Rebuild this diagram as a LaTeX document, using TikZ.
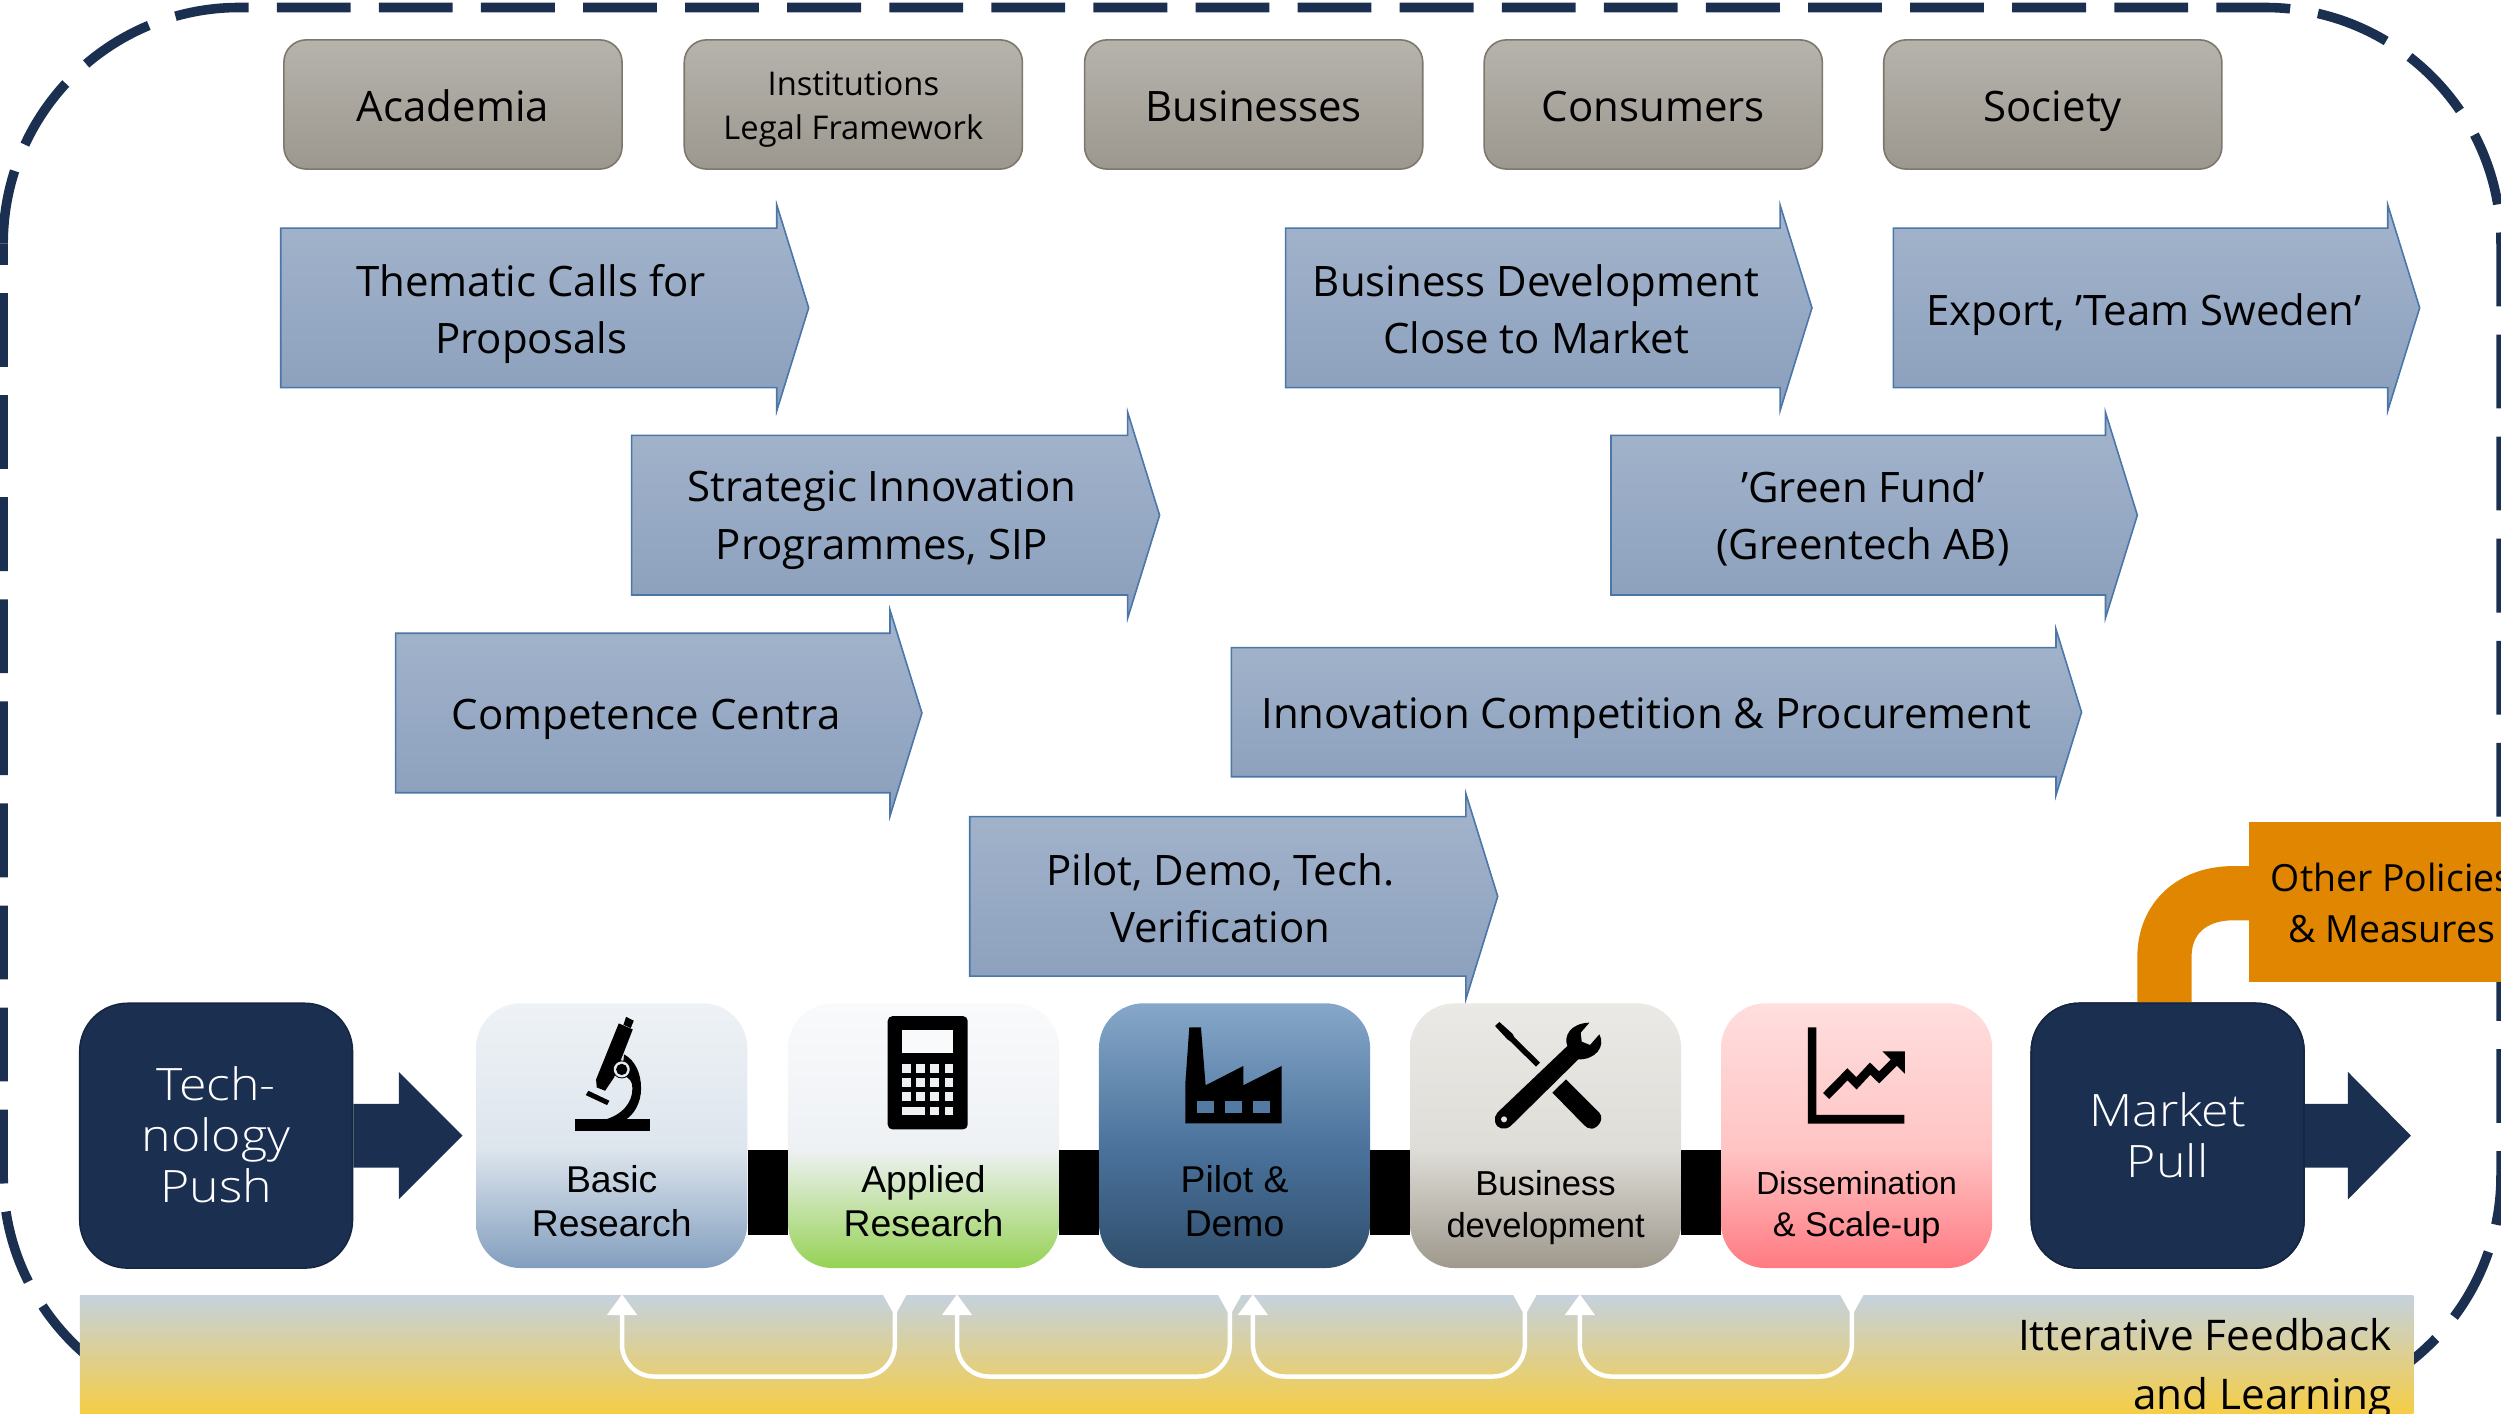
\documentclass[tikz,border=0pt]{standalone}
\usepackage{fontspec}
\setmainfont{Open Sans}
\newfontfamily\arialf{Liberation Sans}
\newfontfamily\navyf[FakeStretch=1.12]{Open Sans Light}
\definecolor{navy}{RGB}{27,47,80}
\definecolor{grayT}{RGB}{182,179,173}
\definecolor{grayB}{RGB}{156,152,143}
\definecolor{grayL}{RGB}{125,120,108}
\definecolor{arrT}{RGB}{164,180,204}
\definecolor{arrB}{RGB}{138,159,188}
\definecolor{arrL}{RGB}{74,118,168}
\definecolor{orangeF}{RGB}{224,134,0}
\definecolor{bandT}{RGB}{197,210,222}
\definecolor{bandB}{RGB}{245,205,70}
\definecolor{bA}{RGB}{238,242,246}\definecolor{bB}{RGB}{221,229,237}\definecolor{bC}{RGB}{130,158,190}
\definecolor{aA}{RGB}{249,250,252}\definecolor{aB}{RGB}{238,241,244}\definecolor{aC}{RGB}{150,210,85}
\definecolor{pA}{RGB}{134,167,201}\definecolor{pB}{RGB}{74,114,155}\definecolor{pC}{RGB}{48,78,108}
\definecolor{dA}{RGB}{234,233,229}\definecolor{dB}{RGB}{223,221,216}\definecolor{dC}{RGB}{158,152,140}
\definecolor{sA}{RGB}{255,222,222}\definecolor{sB}{RGB}{255,196,196}\definecolor{sC}{RGB}{255,122,130}
\newcommand{\declshade}[4]{\pgfdeclareverticalshading{#1}{100bp}{color(0bp)=(#4); color(25bp)=(#4); color(47.5bp)=(#3); color(75bp)=(#2); color(100bp)=(#2)}}
\declshade{shBasic}{bA}{bB}{bC}
\declshade{shApplied}{aA}{aB}{aC}
\declshade{shPilot}{pA}{pB}{pC}
\declshade{shBusiness}{dA}{dB}{dC}
\declshade{shDiss}{sA}{sB}{sC}
\tikzset{
  graybox/.style={draw=grayL,line width=1pt,rounded corners=14pt,top color=grayT,bottom color=grayB,minimum width=212pt,minimum height=81pt,inner sep=0pt},
  graytext/.style={align=center,font=\fontsize{26.3}{32}\selectfont,text=black},
  arrowshape/.style={draw=arrL,line width=1pt,top color=arrT,bottom color=arrB},
  arrowtext/.style={align=center,font=\fontsize{26.3}{36}\selectfont,text=black},
  stagebox/.style={rounded corners=28pt,minimum width=170pt,minimum height=166pt,inner sep=0pt,shade},
  stagetext/.style={align=center,font=\arialf\fontsize{23.4}{28}\selectfont,text=black},
  navybox/.style={fill=navy,draw=navy!80!black,line width=1pt,rounded corners=30pt,minimum width=171pt,minimum height=166pt,inner sep=0pt},
  navytext/.style={align=center,font=\navyf\fontsize{28}{32}\selectfont,text=white},
  link/.style={line width=53pt,black},
  dashline/.style={navy,line width=6pt},
  loopline/.style={white,line width=2.8pt,rounded corners=20pt},
  looptip/.style={fill=white,draw=none},
  icon/.style={x=0.209pt,y=-0.209pt}
}
\newcommand{\polyarrow}[9]{%
  \draw[arrowshape] (#2,#5) -- (#3,#5) -- (#3,#5-#7) -- (#4,{(#5+#6)/2}) -- (#3,#6+#7) -- (#3,#6) -- (#2,#6) -- cycle;
  \node[arrowtext] (#1) at (#8,#9)}
\newcommand{\feedback}[3]{%
  \coordinate (fbA#1) at (#2,812);
  \coordinate (fbB#1) at (#3,812);
  \fill[looptip] (#2-9.5,824.5) -- (#2,811.5) -- (#2+9.5,824.5) -- cycle;
  \fill[looptip] (#3-7.5,811.5) -- (#3+7.5,811.5) -- (#3,825) -- cycle;
  \draw[loopline] (fbA#1 |- 0,823) -- (fbA#1 |- 0,863) -- (fbB#1 |- 0,863) -- (fbB#1 |- 0,823);}
\begin{document}
\begin{tikzpicture}[x=1pt,y=-1pt]
\useasboundingbox (0,0) rectangle (1568,885.9);
\clip (0,0) rectangle (1568,885.9);
% dashed frame
\draw[dashline,dash pattern=on 46.3pt off 17.7pt] (2,152.7) .. controls (2,71) and (68.3,4.7) .. (150,4.7) -- (1420,4.7) .. controls (1501.7,4.7) and (1568,71) .. (1568,152.7) -- (1568,737) .. controls (1568,818.7) and (1501.7,885) .. (1420,885) -- (785,885);
\draw[dashline,dash pattern=on 46.3pt off 17.7pt,dash phase=33pt] (2,152.7) -- (2,737) .. controls (2,818.7) and (68.3,885) .. (150,885) -- (785,885);
% top row
\node[graybox] (academia) at (284,65.5) {};
\node[graybox] (institutions) at (535,65.5) {};
\node[graybox] (businesses) at (786,65.5) {};
\node[graybox] (consumers) at (1036.5,65.5) {};
\node[graybox] (society) at (1287,65.5) {};
\node[graytext] (academiaT) at (284,66.5) {Academia};
\node[graytext,font=\fontsize{20.5}{28}\selectfont] (institutionsT) at (535,68.5) {Institutions\\Legal Framework};
\node[graytext] (businessesT) at (786,66.5) {Businesses};
\node[graytext] (consumersT) at (1036.5,66.5) {Consumers};
\node[graytext] (societyT) at (1287,69.5) {Society};
% policy arrows
\polyarrow{thematic}{176}{487}{507}{143}{243}{14.5}{333}{197} {Thematic Calls for\\Proposals};
\polyarrow{strategic}{396}{707}{727}{273}{373}{14.5}{553}{326} {Strategic Innovation\\Programmes, SIP};
\polyarrow{competence}{248}{558}{578}{397}{497}{14.5}{405}{451} {Competence Centra};
\polyarrow{bizdev}{806}{1116}{1136}{143}{243}{14.5}{963}{194} {Business Development\\Close to Market};
\polyarrow{export}{1187}{1497}{1517}{143}{243}{14.5}{1344}{197} {Export, ’Team Sweden’};
\polyarrow{green}{1010}{1320}{1340}{273}{373}{14.5}{1168}{325} {’Green Fund’\\(Greentech AB)};
\polyarrow{procure}{772}{1289}{1305}{406}{487}{11.5}{1032}{450.5} {Innovation Competition \& Procurement};
\polyarrow{pilotarrow}{608}{919}{939}{512}{612}{14.5}{765}{563} {Pilot, Demo, Tech.\\Verification};
% other policies
\node[fill=orangeF,minimum width=200pt,minimum height=100.5pt,inner sep=0pt,anchor=west] (other) at (1410,565.3) {};
\node[align=center,font=\fontsize{23.5}{32}\selectfont,text=black,anchor=center] (otherT) at (1499.5,566) {Other Policies\\\& Measures};
% bottom row
\node[navybox] (tech) at (135.5,712) {};
\node[navybox] (market) at (1359,712) {};
\draw[orangeF,line width=34pt] (market.north -| 1357,0) -- (1357,600) .. controls (1357,575) and (1375,560) .. (1400,560) -- (other.west |- 0,560);
\node[navybox] (market) at (1359,712) {};
\fill[navy] (tech.east |- 0,692) -- (250,692) -- (250,672) -- (290,712) -- (250,752) -- (250,732) -- (tech.east |- 0,732) -- cycle;
\fill[navy] (market.east |- 0,692) -- (1472,692) -- (1472,672) -- (1511.5,712) -- (1472,752) -- (1472,732) -- (market.east |- 0,732) -- cycle;
\node[navytext] (techT) at (135.5,711.5) {Tech-\\nology\\Push};
\node[navytext] (marketT) at (1359,712) {Market\\Pull};
\node[stagebox,shading=shBasic] (basic) at (383.5,712) {};
\node[stagebox,shading=shApplied] (applied) at (579,712) {};
\node[stagebox,shading=shPilot] (pilot) at (774,712) {};
\node[stagebox,shading=shBusiness] (business) at (969,712) {};
\node[stagebox,shading=shDiss] (diss) at (1164,712) {};
\draw[link] ([yshift=-35.5pt]basic.east) -- ([yshift=-35.5pt]applied.west);
\draw[link] ([yshift=-35.5pt]applied.east) -- ([yshift=-35.5pt]pilot.west);
\draw[link] ([yshift=-35.5pt]pilot.east) -- ([yshift=-35.5pt]business.west);
\draw[link] ([yshift=-35.5pt]business.east) -- ([yshift=-35.5pt]diss.west);
\node[stagetext] (basicT) at (383.5,753) {Basic\\Research};
\node[stagetext] (appliedT) at (579,753) {Applied\\Research};
\node[stagetext] (pilotT) at (774,753) {Pilot \&\\Demo};
\node[stagetext,font=\arialf\fontsize{21.7}{26}\selectfont] (businessT) at (969,757) {Business\\development};
\node[stagetext,font=\arialf\fontsize{20}{26}\selectfont] (dissT) at (1164,757) {Dissemination\\{\fontsize{21.5}{26}\selectfont\& Scale-up}};
% microscope
\begin{scope}[shift={(338.6,627)},icon]
\fill[black] (106,358) rectangle (331,392);
\fill[black] (258,50) -- (281,62) -- (272,84) -- (250,74) -- cycle;
\fill[black] (236,70) -- (278,88) -- (222,232) -- (195,272) -- (170,262) -- (168,238) -- cycle;
\fill[black] (252,163) .. controls (285,180) and (303,220) .. (303,265) .. controls (303,310) and (280,345) .. (255,360) -- (190,360) .. controls (245,345) and (277,310) .. (277,265) .. controls (277,245) and (270,232) .. (245,225) -- cycle;
\fill[black] (145,272) -- (208,302) -- (201,315) -- (137,285) -- cycle;
\fill[black] (245,208) circle[radius=27];
\fill[bA!50!bB] (245,208) circle[radius=24];
\fill[black] (245,208) circle[radius=17];
\end{scope}
% calculator
\begin{scope}[shift={(539.2,627)},icon]
\fill[black,rounded corners=3pt] (83,48) rectangle (323,388);
\fill[aA] (125,90) rectangle (279,158);
\foreach \bx in {126,168,211,254}{\foreach \by in {192,235,277}{\fill[aB] (\bx,\by) rectangle ++(26,26);}}
\fill[aB] (126,320) rectangle (194,346);
\fill[aB] (211,320) rectangle ++(26,26);
\fill[aB] (254,320) rectangle ++(26,26);
\end{scope}
% factory
\begin{scope}[shift={(733.5,633.2)},icon]
\fill[black] (58,52) -- (93,52) -- (107,226) -- (220,168) -- (220,226) -- (335,168) -- (335,340) -- (46,340) -- (46,222) -- cycle;
\foreach \wx in {80,165,250}{\fill[pB!85!pA] (\wx,273) rectangle ++(51,37);}
\end{scope}
% tools
\begin{scope}[shift={(927.9,633.2)},icon]
\fill[black] (45,48) -- (58,36) -- (98,72) -- (103,82) -- (180,158) -- (168,170) -- (92,95) -- (82,88) -- cycle;
\fill[black] (217,248) -- (258,208) -- (358,308) .. controls (375,330) and (350,356) .. (335,356) .. controls (325,356) and (318,352) .. (312,345) -- cycle;
\fill[black] (52,308) -- (262,108) .. controls (250,80) and (270,40) .. (328,38) -- (302,68) -- (305,95) -- (330,105) -- (358,73) .. controls (378,110) and (345,150) .. (295,148) -- (92,348) .. controls (75,362) and (50,358) .. (45,335) .. controls (43,325) and (46,315) .. (52,308) -- cycle;
\fill[dA!50!dB] (72,328) circle[radius=9];
\end{scope}
% chart
\begin{scope}[shift={(1122.3,633.2)},icon]
\fill[black] (53,52) -- (79,52) -- (79,315) -- (343,315) -- (343,341) -- (53,341) -- cycle;
\draw[black,line width=5.4pt] (108,258) -- (172,193) -- (199,220) -- (240,176) -- (267,202) -- (322,147);
\fill[black] (277,124) -- (344,124) -- (344,191) -- cycle;
\end{scope}
% band
\fill[top color=bandT,bottom color=bandB] (50,812) rectangle (1513,886);
\feedback{a}{390}{561}
\feedback{b}{600}{771}
\feedback{c}{785.5}{956}
\feedback{d}{990.5}{1161}
\node[anchor=east,align=right,font=\fontsize{26.5}{37}\selectfont,text=black] (feedbackT) at (1503,858.5) {Itterative Feedback\\and Learning};
\end{tikzpicture}
\end{document}
